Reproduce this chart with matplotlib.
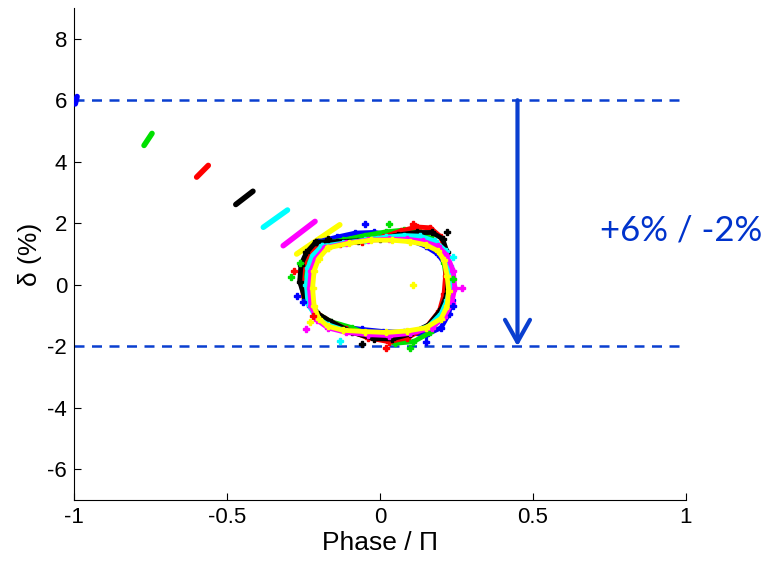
import matplotlib
matplotlib.use("Agg")
import matplotlib.pyplot as plt

# ---- data ------------------------------------------------------------------
colors = ["#0000ff", "#00e000", "#ff0000", "#000000", "#00ffff", "#ff00ff", "#ffff00"]

# injection streaks (phase/pi, delta %) for each turn colour
streak_x = [[-0.996, -0.990], [-0.771, -0.745], [-0.599, -0.561], [-0.471, -0.415],
            [-0.381, -0.302], [-0.316, -0.212], [-0.272, -0.131]]
streak_y = [[5.88, 6.12], [4.53, 4.92], [3.50, 3.88], [2.61, 3.04],
            [1.87, 2.43], [1.27, 2.06], [1.00, 1.95]]

# closed phase-space loops
bl_x = [-0.20, -0.14, -0.08, -0.02, 0.04, 0.10, 0.15, 0.19, 0.225, 0.235, 0.235, 0.225, 0.20, 0.15, 0.08, 0.01, -0.06, -0.13, -0.19, -0.23, -0.25, -0.245, -0.23, -0.20]
bl_y = [1.40, 1.55, 1.68, 1.70, 1.62, 1.45, 1.25, 1.00, 0.50, 0.00, -0.50, -0.95, -1.40, -1.62, -1.55, -1.52, -1.45, -1.35, -1.10, -0.70, -0.10, 0.50, 1.00, 1.40]
gn_x = [-0.19, -0.12, -0.05, 0.02, 0.08, 0.13, 0.17, 0.195, 0.21, 0.22, 0.215, 0.20, 0.165, 0.11, 0.05, -0.02, -0.09, -0.16, -0.21, -0.24, -0.248, -0.24, -0.22, -0.19]
gn_y = [1.35, 1.45, 1.60, 1.72, 1.78, 1.70, 1.50, 1.20, 0.70, 0.05, -0.50, -1.00, -1.55, -1.85, -1.90, -1.70, -1.40, -1.20, -0.90, -0.45, 0.10, 0.65, 1.05, 1.35]
rd_x = [-0.20, -0.13, -0.06, 0.01, 0.07, 0.12, 0.165, 0.20, 0.215, 0.215, 0.21, 0.195, 0.15, 0.09, 0.03, -0.04, -0.11, -0.18, -0.22, -0.25, -0.257, -0.25, -0.23, -0.20]
rd_y = [1.30, 1.33, 1.40, 1.55, 1.75, 1.88, 1.85, 1.55, 1.00, 0.30, -0.30, -0.85, -1.40, -1.72, -1.85, -1.72, -1.45, -1.10, -0.80, -0.35, 0.20, 0.70, 1.05, 1.30]
bk_x = [-0.21, -0.14, -0.07, 0.00, 0.06, 0.12, 0.17, 0.205, 0.22, 0.225, 0.22, 0.20, 0.16, 0.10, 0.04, -0.02, -0.09, -0.16, -0.21, -0.245, -0.262, -0.258, -0.24, -0.21]
bk_y = [1.38, 1.40, 1.43, 1.50, 1.62, 1.70, 1.70, 1.50, 1.05, 0.40, -0.30, -0.80, -1.30, -1.60, -1.76, -1.75, -1.55, -1.20, -0.90, -0.45, 0.10, 0.65, 1.05, 1.38]
cy_x = [-0.19, -0.12, -0.05, 0.02, 0.08, 0.13, 0.18, 0.215, 0.23, 0.23, 0.22, 0.20, 0.16, 0.10, 0.03, -0.04, -0.11, -0.17, -0.21, -0.235, -0.24, -0.235, -0.22, -0.19]
cy_y = [1.25, 1.35, 1.45, 1.55, 1.60, 1.58, 1.42, 1.10, 0.60, 0.00, -0.50, -0.95, -1.35, -1.55, -1.62, -1.60, -1.50, -1.30, -1.05, -0.60, 0.00, 0.55, 0.95, 1.25]
mg_x = [-0.18, -0.11, -0.04, 0.03, 0.09, 0.14, 0.19, 0.22, 0.24, 0.245, 0.235, 0.21, 0.17, 0.10, 0.03, -0.04, -0.11, -0.17, -0.205, -0.225, -0.23, -0.225, -0.21, -0.18]
mg_y = [1.20, 1.35, 1.45, 1.48, 1.48, 1.42, 1.25, 0.95, 0.45, -0.10, -0.60, -1.05, -1.40, -1.58, -1.65, -1.62, -1.55, -1.40, -1.15, -0.70, -0.10, 0.45, 0.85, 1.20]
yl_x = [-0.17, -0.10, -0.03, 0.04, 0.10, 0.15, 0.19, 0.21, 0.22, 0.225, 0.22, 0.20, 0.15, 0.09, 0.02, -0.05, -0.12, -0.17, -0.20, -0.215, -0.22, -0.215, -0.20, -0.17]
yl_y = [1.20, 1.35, 1.45, 1.45, 1.40, 1.30, 1.10, 0.80, 0.30, -0.20, -0.70, -1.10, -1.40, -1.50, -1.55, -1.52, -1.48, -1.35, -1.10, -0.70, -0.10, 0.45, 0.85, 1.20]
loops_x = [bl_x, gn_x, rd_x, bk_x, cy_x, mg_x, yl_x]
loops_y = [bl_y, gn_y, rd_y, bk_y, cy_y, mg_y, yl_y]

# stray particles
out_x = [[-0.27, -0.25, 0.15, -0.05, 0.24], [-0.29, -0.26, 0.10, 0.03, 0.24],
         [0.02, 0.11, -0.28, -0.22], [-0.06, 0.22, -0.17], [-0.13, 0.24],
         [0.27, -0.24], [0.11, -0.23]]
out_y = [[-0.35, -0.55, -1.85, 1.98, -0.70], [0.24, 0.70, -2.05, 1.98, 0.20],
         [-2.04, 1.98, 0.45, -1.00], [-1.92, 1.70, 1.50], [-1.82, 0.90],
         [-0.10, -1.45], [0.00, -1.20]]

limit_y = [6, -2]
arrow_x = 0.45
note = "+6% / -2%"

# ---- figure -----------------------------------------------------------------
plt.rcParams["font.family"] = ["Liberation Sans", "DejaVu Sans"]
plt.rcParams["axes.unicode_minus"] = False
fig = plt.figure(figsize=(7.67, 5.67), dpi=100)
ax = fig.add_axes([0.0965, 0.118, 0.7975, 0.868])

for c, sx, sy in zip(colors, streak_x, streak_y):
    ax.plot(sx, sy, "-", color=c, lw=4, solid_capstyle="round", zorder=3)
for c, lx, ly in zip(colors, loops_x, loops_y):
    ax.plot(lx, ly, "-", color=c, lw=3.5, marker="P", ms=5, zorder=3)
for c, ox, oy in zip(colors, out_x, out_y):
    ax.plot(ox, oy, "P", color=c, ms=5, ls="none", zorder=3)

blue = "#0a3fd0"
for yv in limit_y:
    ax.plot([-1, 0.98], [yv, yv], "--", color=blue, lw=1.8, dashes=(4, 3), zorder=2)
ax.annotate("", xy=(arrow_x, limit_y[1]), xytext=(arrow_x, limit_y[0]),
            arrowprops=dict(arrowstyle="->,head_length=0.8,head_width=0.45",
                            color=blue, lw=3, mutation_scale=20,
                            shrinkA=0, shrinkB=0))
fig.text(0.782, 0.594, note, color="#0033cc", fontsize=25, family=["Lato", "DejaVu Sans"],
         ha="left", va="center")

ax.set_xlim(-1, 1)
ax.set_ylim(-7, 9)
ax.set_xticks([-1, -0.5, 0, 0.5, 1])
ax.set_xticklabels(["-1", "-0.5", "0", "0.5", "1"])
ax.set_yticks([-6, -4, -2, 0, 2, 4, 6, 8])
ax.spines["top"].set_visible(False)
ax.spines["right"].set_visible(False)
ax.tick_params(direction="in", length=5, labelsize=16, pad=5)
ax.set_xlabel("Phase / \u03a0", fontsize=19, labelpad=2)
ax.set_ylabel("\u03b4 (%)", fontsize=19, labelpad=4)

fig.savefig("out.png", dpi=100)
